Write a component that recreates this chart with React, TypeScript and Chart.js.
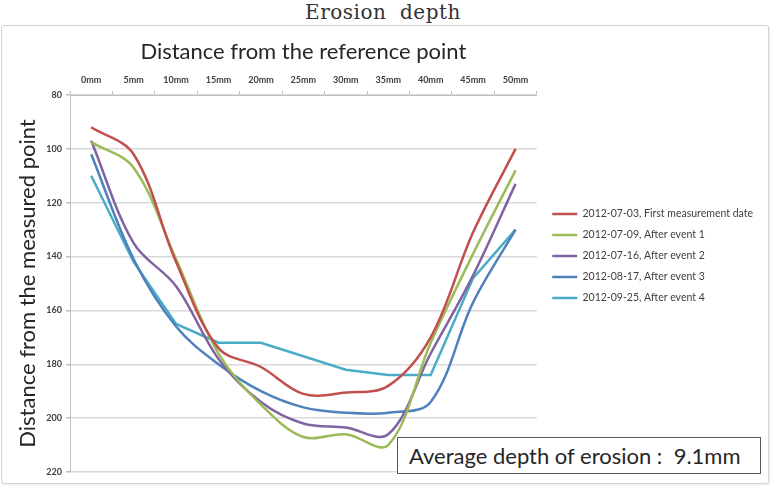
import React, { useEffect, useRef } from "react";
import { Chart, registerables } from "chart.js";

Chart.register(...registerables);

// Measuring positions along the cross-section
const categories = ["0mm", "5mm", "10mm", "15mm", "20mm", "25mm", "30mm", "35mm", "40mm", "45mm", "50mm"];

// Distance from the measured point at each position, per survey date
const firstMeasurement = [92, 102, 142, 174, 181, 191, 190.5, 188, 170, 131, 100];
const afterEvent1 = [97.5, 107, 141, 176, 195, 207, 206, 210, 172, 139, 108];
const afterEvent2 = [97, 135, 151, 178, 194, 202, 203.5, 206, 176, 147, 113];
const afterEvent3 = [102, 141, 166, 180, 190, 196, 198, 198, 194, 157, 130];
const afterEvent4 = [110, 142, 165, 172, 172, 177, 182, 184, 184, 148, 130];

const seriesLabels = [
  "2012-07-03, First measurement date",
  "2012-07-09, After event 1",
  "2012-07-16, After event 2",
  "2012-08-17, After event 3",
  "2012-09-25, After event 4",
];
const seriesColors = ["#c0504d", "#9bbb59", "#8064a2", "#4f81bd", "#4bacc6"];

const yMin = 80;
const yMax = 220;
const yStep = 20;

const chartTitle = "Erosion  depth";
const xTitle = "Distance from the reference point";
const yTitle = "Distance from the measured point";
const noteText = "Average depth of erosion :  9.1mm";

const FONT = "Lato, 'Open Sans', sans-serif";
const TEXT = "#404040";

// Nudges the right-hand legend a little away from the plot and down
const legendShift = {
  id: "legendShift",
  afterLayout(chart: any) {
    const lg = chart.legend;
    if (lg) {
      lg.left += 5;
      lg.right += 5;
      lg.top += 6;
      lg.bottom += 6;
    }
  },
};

export default function App() {
  const canvasRef = useRef<HTMLCanvasElement | null>(null);

  useEffect(() => {
    document.body.style.margin = "0";
    const canvas = canvasRef.current;
    if (!canvas) return;
    const series = [firstMeasurement, afterEvent1, afterEvent2, afterEvent3, afterEvent4];
    const chart = new Chart(canvas, {
      type: "line",
      data: {
        labels: categories,
        datasets: series.map((values, i) => ({
          label: seriesLabels[i],
          data: values,
          borderColor: seriesColors[i],
          backgroundColor: seriesColors[i],
          borderWidth: 2.5,
          pointRadius: 0,
          pointHoverRadius: 0,
          tension: i === 4 ? 0 : 0.35,
          fill: false,
        })),
      },
      options: {
        animation: false,
        responsive: false,
        devicePixelRatio: 1,
        layout: { padding: { top: 28, left: 8, right: 15, bottom: 15 } },
        plugins: {
          legend: {
            position: "right",
            maxWidth: 260,
            labels: {
              usePointStyle: true,
              pointStyle: "line",
              pointStyleWidth: 25,
              boxHeight: 11,
              padding: 10.5,
              color: TEXT,
              font: { family: FONT, size: 10.5 },
            },
          },
          tooltip: { enabled: false },
        },
        scales: {
          x: {
            type: "category",
            position: "top",
            offset: true,
            grid: {
              offset: true,
              drawOnChartArea: false,
              drawTicks: true,
              tickLength: 4,
              color: "#bfbfbf",
            },
            border: { color: "#bfbfbf", width: 1 },
            ticks: {
              color: TEXT,
              padding: 6,
              maxRotation: 0,
              font: { family: FONT, size: 9, weight: "bold" },
            },
            title: {
              display: true,
              text: xTitle,
              color: "#262626",
              padding: { top: 11, bottom: 0 },
              font: { family: FONT, size: 22 },
            },
            afterFit(scale: any) {
              scale.height = 67;
            },
          },
          y: {
            reverse: true,
            min: yMin,
            max: yMax,
            grid: {
              color: "#d9d9d9",
              lineWidth: 1.5,
              drawTicks: true,
              tickLength: 4,
              tickColor: "#bfbfbf",
            },
            border: { color: "#bfbfbf", width: 1 },
            ticks: {
              stepSize: yStep,
              color: TEXT,
              padding: 4,
              font: { family: FONT, size: 9, weight: "bold" },
            },
            title: {
              display: true,
              text: yTitle,
              color: "#262626",
              padding: { top: 7, bottom: 0 },
              font: { family: FONT, size: 22 },
            },
            afterFit(scale: any) {
              scale.width = 62;
            },
          },
        },
      },
      plugins: [legendShift],
    });
    return () => chart.destroy();
  }, []);

  return (
    <div style={{ position: "relative", width: 773, height: 487, background: "#fff", overflow: "hidden" }}>
      <div
        style={{
          position: "absolute",
          left: 0,
          top: 0,
          width: 766,
          textAlign: "center",
          fontFamily: "'DejaVu Serif', 'Liberation Serif', serif",
          fontSize: 20,
          lineHeight: "24px",
          color: "#333",
          whiteSpace: "pre",
          letterSpacing: 0.5,
        }}
      >
        {chartTitle}
      </div>
      <div
        style={{
          position: "absolute",
          left: 1,
          top: 25,
          width: 766,
          height: 457,
          border: "1px solid #d4d4d4",
          borderRadius: 3,
          boxShadow: "1px 1px 2px rgba(0,0,0,0.08)",
          background: "#fff",
        }}
      />
      <canvas
        ref={canvasRef}
        width={773}
        height={487}
        style={{ position: "absolute", left: 0, top: 0, width: 773, height: 487 }}
      />
      <div
        style={{
          position: "absolute",
          left: 397,
          top: 437,
          width: 351,
          height: 35,
          border: "1px solid #595959",
          background: "#fff",
          fontFamily: FONT,
          fontSize: 22,
          lineHeight: "35px",
          color: "#262626",
          paddingLeft: 11,
          boxSizing: "content-box",
          whiteSpace: "pre",
        }}
      >
        {noteText}
      </div>
    </div>
  );
}
